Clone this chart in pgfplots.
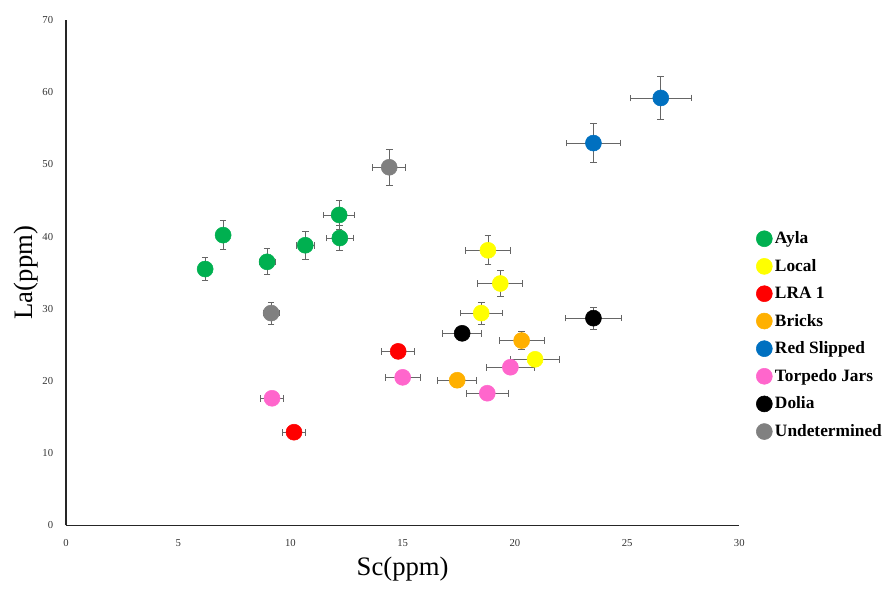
\documentclass[border=0pt]{standalone}
\usepackage{pgfplots}
\pgfplotsset{compat=1.18}
\usepackage{fontspec}
\setmainfont{Liberation Serif}
\definecolor{cAyla}{HTML}{00B050}
\definecolor{cLocal}{HTML}{FFFF00}
\definecolor{cLRA}{HTML}{FF0000}
\definecolor{cBricks}{HTML}{FFB000}
\definecolor{cRed}{HTML}{0070C0}
\definecolor{cTorp}{HTML}{FF66CC}
\definecolor{cDolia}{HTML}{000000}
\definecolor{cUnd}{HTML}{808080}
\begin{document}
\begin{tikzpicture}
\useasboundingbox (-49.5pt,-48.75pt) rectangle (615pt,394pt);
\begin{axis}[
  scale only axis,
  width=505pt, height=379pt,
  xmin=0, xmax=30, ymin=0, ymax=70,
  xtick distance=5, ytick distance=10,
  axis lines=left,
  axis line style={-, line width=0.9pt, black!85},
  tick style={draw=none},
  /pgf/number format/assume math mode=true,
  tick label style={font=\fontsize{8}{9}\selectfont, text=black!80},
  xticklabel style={yshift=-5pt},
  yticklabel style={xshift=-4pt},
  xlabel={Sc(ppm)}, ylabel={La(ppm)},
  label style={font=\fontsize{20}{24}\selectfont},
  xlabel style={at={(rel axis cs:0.5,0)}, anchor=north, yshift=-20pt},
  ylabel style={at={(rel axis cs:0,0.5)}, anchor=south, yshift=17pt},
  legend style={draw=none, fill=none, at={(rel axis cs:1.01,0.6)}, anchor=north west,
    xshift=4.5pt, yshift=-3pt,
    font=\fontsize{13}{15}\selectfont\bfseries, row sep=6.2pt,
    legend cell align=left},
  legend image code/.code={\draw[#1] plot coordinates {(0.22cm,0cm)};},
  every axis plot/.append style={only marks, mark=*, mark size=6pt,
    /pgfplots/error bars/x dir=both, /pgfplots/error bars/y dir=both,
    /pgfplots/error bars/x explicit, /pgfplots/error bars/y explicit,
    /pgfplots/error bars/error bar style={black!60, line width=0.6pt},
    /pgfplots/error bars/error mark options={rotate=90, mark size=2.5pt, black!60, line width=0.6pt}},
]
\addplot[mark options={draw=cAyla, fill=cAyla}] table[x=x,y=y,x error=ex,y error=ey] {
x y ex ey
6.2 35.5 0.3 1.6
7.0 40.2 0.3 2.0
8.96 36.5 0.35 1.8
10.66 38.8 0.4 1.9
12.17 43.0 0.7 2.0
12.2 39.8 0.6 1.7
};
\addlegendentry{Ayla}
\addplot[mark options={draw=cLocal, fill=cLocal}] table[x=x,y=y,x error=ex,y error=ey] {
x y ex ey
18.8 38.1 1.0 2.0
19.35 33.5 1.0 1.8
18.5 29.4 0.93 1.5
20.9 23.0 1.08 1.0
};
\addlegendentry{Local}
\addplot[mark options={draw=cLRA, fill=cLRA}] table[x=x,y=y,x error=ex,y error=ey] {
x y ex ey
14.8 24.1 0.74 0.8
10.16 12.9 0.5 0.5
};
\addlegendentry{LRA 1}
\addplot[mark options={draw=cBricks, fill=cBricks}] table[x=x,y=y,x error=ex,y error=ey] {
x y ex ey
20.3 25.6 1.0 1.2
17.43 20.1 0.87 1.0
};
\addlegendentry{Bricks}
\addplot[mark options={draw=cRed, fill=cRed}] table[x=x,y=y,x error=ex,y error=ey] {
x y ex ey
26.5 59.2 1.37 3.0
23.5 52.95 1.2 2.7
};
\addlegendentry{Red Slipped}
\addplot[mark options={draw=cTorp, fill=cTorp}] table[x=x,y=y,x error=ex,y error=ey] {
x y ex ey
9.18 17.6 0.5 0.7
15.0 20.5 0.77 0.8
18.77 18.3 0.94 0.8
19.8 21.9 1.05 0.9
};
\addlegendentry{Torpedo Jars}
\addplot[mark options={draw=cDolia, fill=cDolia}] table[x=x,y=y,x error=ex,y error=ey] {
x y ex ey
17.65 26.6 0.88 1.0
23.5 28.7 1.25 1.5
};
\addlegendentry{Dolia}
\addplot[mark options={draw=cUnd, fill=cUnd}] table[x=x,y=y,x error=ex,y error=ey] {
x y ex ey
14.4 49.6 0.73 2.5
9.14 29.4 0.35 1.5
};
\addlegendentry{Undetermined}
\end{axis}
\end{tikzpicture}
\end{document}
